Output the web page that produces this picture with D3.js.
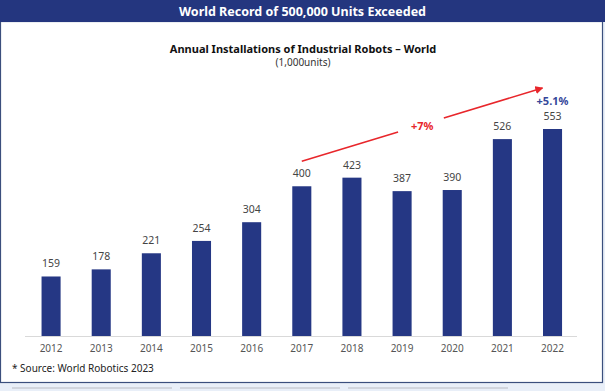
<!DOCTYPE html>
<html><head><meta charset="utf-8">
<script src="https://cdn.jsdelivr.net/npm/d3@7"></script>
<style>body{margin:0;background:#fff;}svg{display:block;font-family:"Noto Sans","Open Sans",sans-serif;}</style>
</head><body>
<svg id="c" width="605" height="391"></svg>
<script>
const years = ["2012","2013","2014","2015","2016","2017","2018","2019","2020","2021","2022"];
const installs = [159,178,221,254,304,400,423,387,390,526,553];
const growthLabels = ["+7%","+5.1%"];

const svg = d3.select("#c");
const W = 605, H = 391;
const navy = "#24367f";

svg.append("rect").attr("x",0).attr("y",0).attr("width",W).attr("height",H).attr("fill","#e9eff8");
svg.append("rect").attr("x",0.5).attr("y",21.5).attr("width",602).attr("height",361).attr("fill","#fff").attr("stroke","#3b4f7d").attr("stroke-width",1.2);
[[12,172],[180,340],[348,508]].forEach(([a,b])=>{
  svg.append("line").attr("x1",a).attr("x2",b).attr("y1",388).attr("y2",388).attr("stroke","#c8ccd4").attr("stroke-width",1.5);
});
svg.append("rect").attr("x",0).attr("y",0).attr("width",W).attr("height",22).attr("fill",navy);
svg.append("text").attr("x",W/2).attr("y",16).attr("text-anchor","middle").attr("fill","#fff")
  .attr("font-size",12.5).attr("font-weight","bold").text("World Record of 500,000 Units Exceeded");

svg.append("text").attr("x",303).attr("y",53).attr("text-anchor","middle").attr("fill","#111")
  .attr("font-size",11).attr("font-weight","bold").text("Annual Installations of Industrial Robots – World");
svg.append("text").attr("x",303).attr("y",66).attr("text-anchor","middle").attr("fill","#333")
  .attr("font-size",10).text("(1,000units)");

const x = d3.scaleBand().domain(years).range([26,577.6]).paddingInner(0.62).paddingOuter(0.31);
const y = d3.scaleLinear().domain([0,553]).range([336,129]);

svg.append("line").attr("x1",25).attr("x2",577).attr("y1",336.5).attr("y2",336.5).attr("stroke","#d9d9d9").attr("stroke-width",1);

svg.selectAll("rect.bar").data(installs).join("rect").attr("class","bar")
  .attr("x",(d,i)=>x(years[i])).attr("width",x.bandwidth())
  .attr("y",d=>y(d)).attr("height",d=>y(0)-y(d)).attr("fill","#253784");

svg.selectAll("text.val").data(installs).join("text").attr("class","val")
  .attr("x",(d,i)=>x(years[i])+x.bandwidth()/2).attr("y",d=>y(d)-9)
  .attr("text-anchor","middle").attr("font-size",10.5).attr("fill","#444").text(d=>d);

const xAxis = d3.axisBottom(x).tickSize(0).tickPadding(9);
const ax = svg.append("g").attr("transform","translate(0,336)").call(xAxis);
ax.select(".domain").remove();
ax.selectAll("text").attr("font-size",10).attr("fill","#555").attr("font-family","'Noto Sans','Open Sans',sans-serif");

svg.append("text").attr("x",12).attr("y",372).attr("font-size",10).attr("fill","#222").text("* Source: World Robotics 2023");

const red = "#e8262b";
const p0 = [x("2017")+x.bandwidth()/2, y(400)-25];
const p1 = [x("2022")+x.bandwidth()/2-10, y(553)-41];
const lerp = t=>[p0[0]+(p1[0]-p0[0])*t, p0[1]+(p1[1]-p0[1])*t];
const a = lerp(0.40), b = lerp(0.59);
svg.append("defs").append("marker").attr("id","ah").attr("viewBox","0 0 10 10").attr("refX",9).attr("refY",5)
  .attr("markerWidth",5).attr("markerHeight",5).attr("orient","auto")
  .append("path").attr("d","M0,0 L10,5 L0,10 z").attr("fill",red);
svg.append("line").attr("x1",p0[0]).attr("y1",p0[1]).attr("x2",a[0]).attr("y2",a[1]).attr("stroke",red).attr("stroke-width",1.6);
svg.append("line").attr("x1",b[0]).attr("y1",b[1]).attr("x2",p1[0]).attr("y2",p1[1]).attr("stroke",red).attr("stroke-width",1.6).attr("marker-end","url(#ah)");
const mid = lerp(0.5);
svg.append("text").attr("x",mid[0]).attr("y",mid[1]+5).attr("text-anchor","middle").attr("font-size",11)
  .attr("font-weight","bold").attr("fill",red).text(growthLabels[0]);
svg.append("text").attr("x",x("2022")+x.bandwidth()/2).attr("y",105).attr("text-anchor","middle").attr("font-size",11)
  .attr("font-weight","bold").attr("fill","#35479a").text(growthLabels[1]);
</script>
</body></html>
